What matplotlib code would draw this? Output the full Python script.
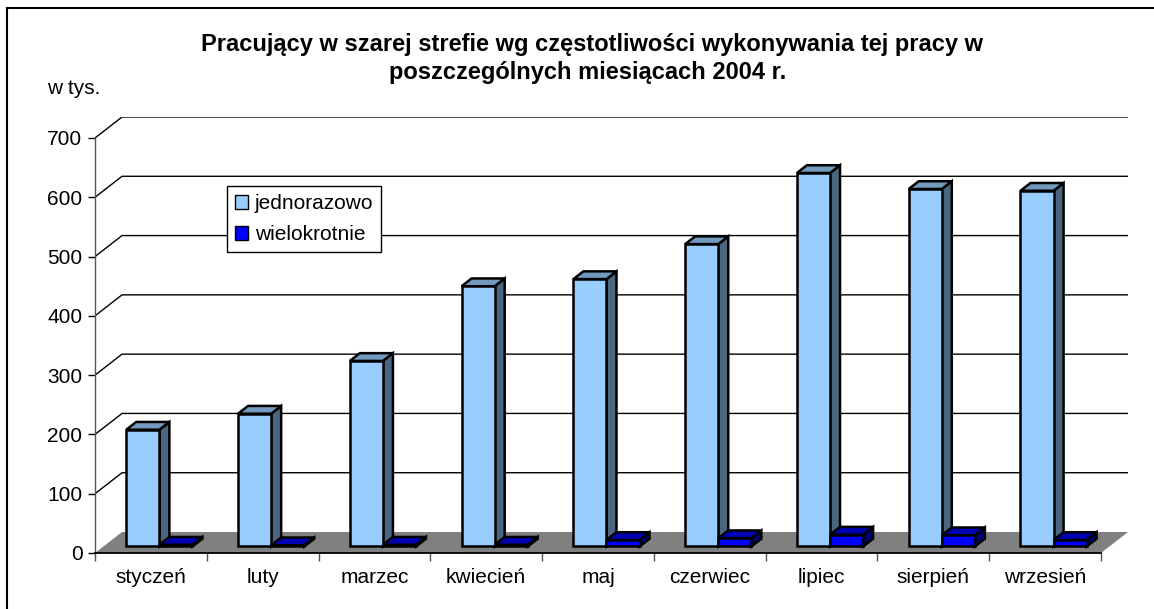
import matplotlib
matplotlib.use("Agg")
import matplotlib.pyplot as plt
from matplotlib.patches import Polygon, Patch
from matplotlib.lines import Line2D

# ---------------- data ----------------
months = ["styczeń", "luty", "marzec", "kwiecień", "maj",
          "czerwiec", "lipiec", "sierpień", "wrzesień"]
jednorazowo = [197, 224, 313, 439, 451, 510, 630, 603, 600]
wielokrotnie = [3, 2, 3, 3, 11, 14, 20, 19, 11]
series_names = ["jednorazowo", "wielokrotnie"]
yticks = [0, 100, 200, 300, 400, 500, 600, 700]
title_lines = ["Pracujący w szarej strefie wg częstotliwości wykonywania tej pracy w",
               "poszczególnych miesiącach 2004 r."]
unit_label = "w tys."

# ---------------- style ----------------
plt.rcParams["font.family"] = ["Liberation Sans", "DejaVu Sans"]
W, H = 1154, 609
fig = plt.figure(figsize=(W / 100, H / 100), dpi=100)
fig.patch.set_facecolor("white")

FS = 15

# pseudo-3D depth offset in data units
DX = 0.2417
DY = 35.4
YMAX = 700

def P(x, y, d):
    return (x + d * DX, y + d * DY)

ax = fig.add_axes([95 / W, 56 / H, 1033 / W, 436 / H])
n = len(months)
ax.set_xlim(0, n + DX)
ax.set_ylim(0, YMAX + DY)
ax.set_facecolor("none")

for s in ["top", "right"]:
    ax.spines[s].set_visible(False)
ax.spines["left"].set_bounds(0, YMAX)
ax.spines["bottom"].set_bounds(0, n)
ax.spines["left"].set_color("#555555")
ax.spines["bottom"].set_color("black")
ax.spines["left"].set_linewidth(1.0)
ax.spines["bottom"].set_linewidth(1.3)
ax.spines["left"].set_zorder(6)
ax.spines["bottom"].set_zorder(6)

ax.set_yticks(yticks)
ax.set_yticklabels([str(v) for v in yticks])
ax.tick_params(axis="y", length=5, width=1, pad=4, labelsize=FS, colors="black")
ax.set_xticks(range(n + 1))
ax.set_xticklabels([])
ax.tick_params(axis="x", which="major", length=6, width=1, color="#555555")
ax.set_xticks([i + 0.5 for i in range(n)], minor=True)
ax.set_xticklabels(months, minor=True)
ax.tick_params(axis="x", which="minor", length=0, pad=11, labelsize=FS)

# back wall gridlines
for v in yticks[1:]:
    x0, y0 = P(0, v, 0)
    x1, y1 = P(0, v, 1)
    x2, y2 = P(n, v, 1)
    ax.plot([x0, x1, x2], [y0, y1, y2], color="black", lw=1.0, zorder=1,
            solid_capstyle="butt")

# floor
floor = Polygon([P(0, 0, 0), P(n, 0, 0), P(n, 0, 1), P(0, 0, 1)],
                closed=True, facecolor="#808080", edgecolor="none", zorder=2)
ax.add_patch(floor)

# bars
colors = [("#99CCFF", "#7399BF", "#4D6680"),
          ("#0000FF", "#0000B4", "#00007A")]
BW = 0.296
OFF = 0.205
D0, D1 = 0.31, 0.68
z = 3
for i in range(n):
    for s, vals in enumerate([jednorazowo, wielokrotnie]):
        v = vals[i]
        xa = i + OFF + s * BW
        xb = xa + BW
        fc, tc, sc = colors[s]
        front = [P(xa, 0, D0), P(xb, 0, D0), P(xb, v, D0), P(xa, v, D0)]
        top = [P(xa, v, D0), P(xb, v, D0), P(xb, v, D1), P(xa, v, D1)]
        side = [P(xb, 0, D0), P(xb, 0, D1), P(xb, v, D1), P(xb, v, D0)]
        for poly, c in [(side, sc), (top, tc), (front, fc)]:
            ax.add_patch(Polygon(poly, closed=True, facecolor=c,
                                 edgecolor="black", lw=1.8, joinstyle="miter",
                                 zorder=z))
        z += 1

# legend
handles = [Patch(facecolor=colors[k][0], edgecolor="black", lw=1.0)
           for k in range(2)]
leg = fig.legend(handles, series_names, loc="upper left",
                 bbox_to_anchor=(227 / W, 1 - 186 / H),
                 bbox_transform=fig.transFigure,
                 fontsize=FS, frameon=True, fancybox=False, shadow=False,
                 framealpha=1, edgecolor="black", handlelength=0.65,
                 handleheight=0.65, handletextpad=0.3, labelspacing=0.6,
                 borderpad=0.38, borderaxespad=0)
leg.get_frame().set_linewidth(1.0)

# title and unit
fig.text(592 / W, 1 - 45 / H, title_lines[0], ha="center", va="center",
         fontsize=17, fontweight="bold")
fig.text(588 / W, 1 - 72 / H, title_lines[1], ha="center", va="center",
         fontsize=17, fontweight="bold")
fig.text(47 / W, 1 - 89 / H, unit_label, ha="left", va="center", fontsize=FS)

# outer chart border
fig.add_artist(Line2D([7 / W, 7 / W], [0, 1 - 8 / H], color="black", lw=1.5,
                      transform=fig.transFigure))
fig.add_artist(Line2D([7 / W, 1], [1 - 8 / H, 1 - 8 / H], color="black", lw=1.5,
                      transform=fig.transFigure))

fig.savefig("out.png", dpi=100)
